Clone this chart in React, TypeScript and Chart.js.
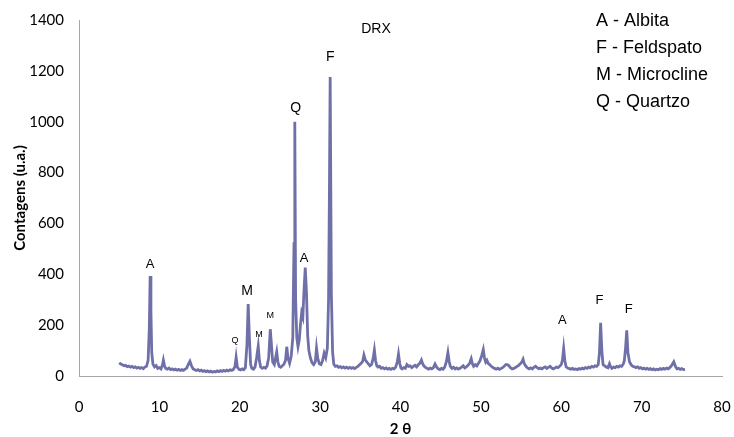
import React, { useEffect, useRef } from "react";
import { Chart, registerables } from "chart.js";

Chart.register(...registerables);

// 2θ positions (degrees) of the diffractogram samples
const twoTheta = [
  5.0, 5.2, 5.4, 5.6, 5.8, 6.0, 6.2, 6.4, 6.6, 6.8, 7.0, 7.2, 7.4, 7.6, 7.8, 8.0, 8.2, 8.4, 8.6, 8.75,
  8.85, 8.95, 9.05, 9.2, 9.4, 9.6, 9.8, 10.0, 10.2, 10.4, 10.5, 10.65, 10.8, 11.0, 11.2, 11.4, 11.6, 11.8, 12.0, 12.2,
  12.4, 12.6, 12.8, 13.0, 13.2, 13.4, 13.6, 13.8, 14.0, 14.2, 14.4, 14.6, 14.8, 15.0, 15.2, 15.4, 15.6, 15.8, 16.0, 16.2,
  16.4, 16.6, 16.8, 17.0, 17.2, 17.4, 17.6, 17.8, 18.0, 18.2, 18.4, 18.6, 18.8, 19.0, 19.2, 19.4, 19.55, 19.7, 19.9, 20.1,
  20.3, 20.5, 20.7, 20.9, 21.05, 21.2, 21.35, 21.5, 21.7, 21.9, 22.1, 22.3, 22.45, 22.6, 22.8, 23.0, 23.2, 23.4, 23.6, 23.8,
  23.95, 24.1, 24.3, 24.45, 24.6, 24.75, 24.9, 25.1, 25.3, 25.5, 25.7, 25.85, 26.0, 26.2, 26.4, 26.6, 26.75, 26.85, 26.95, 27.1,
  27.25, 27.4, 27.55, 27.7, 27.85, 28.0, 28.15, 28.3, 28.45, 28.6, 28.8, 29.0, 29.2, 29.4, 29.55, 29.7, 29.9, 30.1, 30.3, 30.5,
  30.7, 30.9, 31.05, 31.15, 31.25, 31.4, 31.55, 31.7, 31.9, 32.1, 32.3, 32.5, 32.7, 32.9, 33.1, 33.3, 33.5, 33.7, 33.9, 34.1,
  34.3, 34.5, 34.7, 34.9, 35.1, 35.3, 35.45, 35.6, 35.8, 36.0, 36.2, 36.4, 36.6, 36.75, 36.9, 37.05, 37.2, 37.4, 37.6, 37.8,
  38.0, 38.2, 38.4, 38.6, 38.8, 39.0, 39.2, 39.4, 39.6, 39.75, 39.9, 40.05, 40.2, 40.4, 40.6, 40.8, 41.0, 41.2, 41.4, 41.6,
  41.8, 42.0, 42.2, 42.4, 42.6, 42.75, 42.9, 43.1, 43.3, 43.5, 43.7, 43.9, 44.1, 44.3, 44.5, 44.7, 44.9, 45.1, 45.3, 45.5,
  45.7, 45.9, 46.05, 46.2, 46.4, 46.6, 46.8, 47.0, 47.2, 47.4, 47.6, 47.8, 48.0, 48.2, 48.4, 48.6, 48.8, 48.95, 49.1, 49.3,
  49.5, 49.7, 49.9, 50.1, 50.3, 50.45, 50.6, 50.75, 50.9, 51.1, 51.3, 51.5, 51.7, 51.9, 52.1, 52.3, 52.5, 52.7, 52.9, 53.1,
  53.3, 53.5, 53.7, 53.9, 54.1, 54.3, 54.5, 54.7, 54.9, 55.1, 55.25, 55.4, 55.6, 55.8, 56.0, 56.2, 56.4, 56.6, 56.8, 57.0,
  57.2, 57.4, 57.6, 57.8, 58.0, 58.2, 58.4, 58.6, 58.8, 59.0, 59.2, 59.4, 59.6, 59.8, 60.0, 60.15, 60.3, 60.45, 60.6, 60.8,
  61.0, 61.2, 61.4, 61.6, 61.8, 62.0, 62.2, 62.4, 62.6, 62.8, 63.0, 63.2, 63.4, 63.6, 63.8, 64.0, 64.2, 64.4, 64.6, 64.75,
  64.9, 65.05, 65.2, 65.4, 65.6, 65.8, 66.0, 66.15, 66.3, 66.5, 66.7, 66.9, 67.1, 67.3, 67.5, 67.7, 67.85, 68.0, 68.15, 68.3,
  68.5, 68.7, 68.9, 69.1, 69.3, 69.5, 69.7, 69.9, 70.1, 70.3, 70.5, 70.7, 70.9, 71.1, 71.3, 71.5, 71.7, 71.9, 72.1, 72.3,
  72.5, 72.7, 72.9, 73.1, 73.3, 73.5, 73.65, 73.8, 74.0, 74.2, 74.4, 74.6, 74.8, 75.0, 75.2, 75.4,
];

// measured counts (u.a.) at each 2θ position
const counts = [
  52, 47, 44, 40, 42, 37, 39, 35, 38, 33, 36, 31, 34, 30, 33, 29, 35, 38, 62, 190,
  393, 255, 92, 46, 36, 41, 30, 33, 28, 45, 62, 38, 30, 27, 31, 25, 28, 24, 27, 23,
  26, 22, 25, 22, 27, 31, 46, 58, 40, 28, 25, 22, 25, 20, 23, 18, 21, 17, 20, 16,
  19, 15, 18, 16, 20, 17, 21, 18, 22, 19, 23, 20, 24, 22, 26, 36, 74, 35, 26, 24,
  28, 25, 33, 125, 283, 150, 46, 30, 27, 35, 72, 118, 60, 35, 30, 34, 31, 40, 72, 184,
  120, 55, 45, 70, 95, 55, 38, 34, 40, 46, 62, 115, 70, 50, 78, 150, 520, 1000, 300, 150,
  115, 140, 200, 248, 232, 340, 426, 330, 160, 100, 70, 52, 45, 56, 110, 70, 48, 45, 60, 90,
  72, 110, 300, 700, 1176, 320, 95, 46, 38, 40, 34, 37, 32, 36, 31, 35, 30, 34, 30, 33,
  29, 34, 38, 44, 50, 58, 82, 65, 55, 48, 40, 45, 70, 102, 60, 40, 35, 38, 30, 33,
  28, 32, 27, 30, 26, 30, 28, 35, 55, 86, 50, 32, 28, 33, 30, 45, 38, 40, 33, 38,
  42, 36, 44, 50, 63, 48, 40, 34, 30, 27, 31, 28, 33, 47, 35, 28, 25, 30, 27, 35,
  55, 92, 58, 38, 30, 34, 28, 32, 27, 30, 35, 40, 32, 36, 42, 50, 68, 48, 38, 45,
  40, 50, 60, 80, 104, 70, 55, 62, 50, 45, 38, 33, 30, 27, 31, 26, 29, 33, 38, 45,
  45, 40, 32, 28, 30, 33, 38, 42, 48, 55, 66, 48, 38, 32, 28, 32, 28, 34, 38, 33,
  29, 31, 28, 33, 36, 30, 34, 38, 32, 28, 31, 35, 33, 38, 45, 62, 108, 60, 36, 31,
  29, 27, 30, 26, 28, 25, 29, 27, 31, 28, 33, 30, 35, 32, 38, 35, 40, 38, 45, 90,
  209, 100, 45, 40, 35, 32, 48, 35, 30, 35, 33, 38, 35, 40, 38, 46, 60, 110, 180, 90,
  55, 44, 38, 36, 33, 36, 30, 33, 28, 31, 27, 30, 26, 29, 25, 28, 24, 27, 25, 29,
  26, 30, 27, 31, 28, 33, 38, 45, 56, 38, 28, 30, 26, 29, 25, 26,
];

// phase labels placed above the peaks (text, 2θ, counts, font size)
const peakTexts = ["A", "Q", "M", "M", "M", "Q", "A", "F", "A", "F", "F"];
const peakX = [8.84, 19.4, 20.9, 22.4, 23.8, 26.95, 28.0, 31.26, 60.15, 64.75, 68.4];
const peakY = [440, 138, 334, 165, 236, 1054, 464, 1254, 220, 299, 260];
const peakSizes = [13, 9, 14, 9, 9, 14, 13, 14, 13, 13, 13];

const legendLines = ["A - Albita", "F - Feldspato", "M - Microcline", "Q - Quartzo"];
const chartTitle = "DRX";

const xTicks = { min: 0, max: 80, step: 10 };
const yTicks = { min: 0, max: 1400, step: 200 };

const lineColor = "#7070a8";
const axisColor = "#a6a6a6";

const textPlugin = {
  id: "drxTexts",
  afterDatasetsDraw(chart: any) {
    const { ctx, scales } = chart;
    ctx.save();
    ctx.fillStyle = "#000";
    ctx.textAlign = "center";
    ctx.textBaseline = "middle";
    peakTexts.forEach((t, i) => {
      ctx.font = `${peakSizes[i]}px "Liberation Sans", Arial, sans-serif`;
      ctx.fillText(t, scales.x.getPixelForValue(peakX[i]), scales.y.getPixelForValue(peakY[i]));
    });
    ctx.font = `14px "Liberation Sans", Arial, sans-serif`;
    ctx.fillText(chartTitle, 376, 29);
    ctx.textAlign = "left";
    ctx.font = `18px "Liberation Sans", Arial, sans-serif`;
    legendLines.forEach((t, i) => {
      ctx.fillText(t, 596, 21 + i * 27);
    });
    ctx.restore();
  },
};

export default function App() {
  const canvasRef = useRef<HTMLCanvasElement | null>(null);

  useEffect(() => {
    document.body.style.margin = "0";
    const canvas = canvasRef.current;
    if (!canvas) return;
    const points = twoTheta.map((x, i) => ({ x, y: counts[i] }));
    const chart = new Chart(canvas, {
      type: "scatter",
      data: {
        datasets: [
          {
            data: points,
            showLine: true,
            borderColor: lineColor,
            borderWidth: 2.8,
            pointRadius: 0,
            tension: 0,
          },
        ],
      },
      options: {
        animation: false,
        responsive: false,
        maintainAspectRatio: false,
        layout: { padding: { left: 0, top: 20, right: 12, bottom: 0 } },
        plugins: { legend: { display: false }, tooltip: { enabled: false } },
        scales: {
          x: {
            type: "linear",
            min: xTicks.min,
            max: xTicks.max,
            grid: { display: false, drawTicks: false },
            border: { display: true, color: axisColor, width: 1 },
            ticks: {
              stepSize: xTicks.step,
              padding: 22,
              color: "#000",
              font: { family: "Lato", size: 15 },
              maxRotation: 0,
              callback: (v: any) => String(v),
            },
            title: {
              display: true,
              text: "2 θ",
              color: "#000",
              font: { family: "Lato", size: 15, weight: "bold", lineHeight: 1 },
              padding: { top: 0, bottom: 0 },
            },
            afterFit(scale: any) {
              scale.height = 61;
              scale.paddingLeft = 0;
              scale.paddingRight = 0;
            },
          },
          y: {
            type: "linear",
            min: yTicks.min,
            max: yTicks.max,
            grid: { display: false, drawTicks: false },
            border: { display: true, color: axisColor, width: 1 },
            ticks: {
              stepSize: yTicks.step,
              padding: 15,
              color: "#000",
              font: { family: "Lato", size: 15 },
              callback: (v: any) => String(v),
            },
            title: {
              display: true,
              text: "Contagens (u.a.)",
              color: "#000",
              font: { family: "Lato", size: 15, weight: "bold", lineHeight: 1 },
              padding: { top: 13, bottom: 0 },
            },
            afterFit(scale: any) {
              scale.width = 79;
              scale.paddingTop = 0;
              scale.paddingBottom = 0;
            },
          },
        },
      },
      plugins: [textPlugin],
    });
    return () => chart.destroy();
  }, []);

  return <canvas ref={canvasRef} width={734} height={437} style={{ display: "block" }} />;
}
